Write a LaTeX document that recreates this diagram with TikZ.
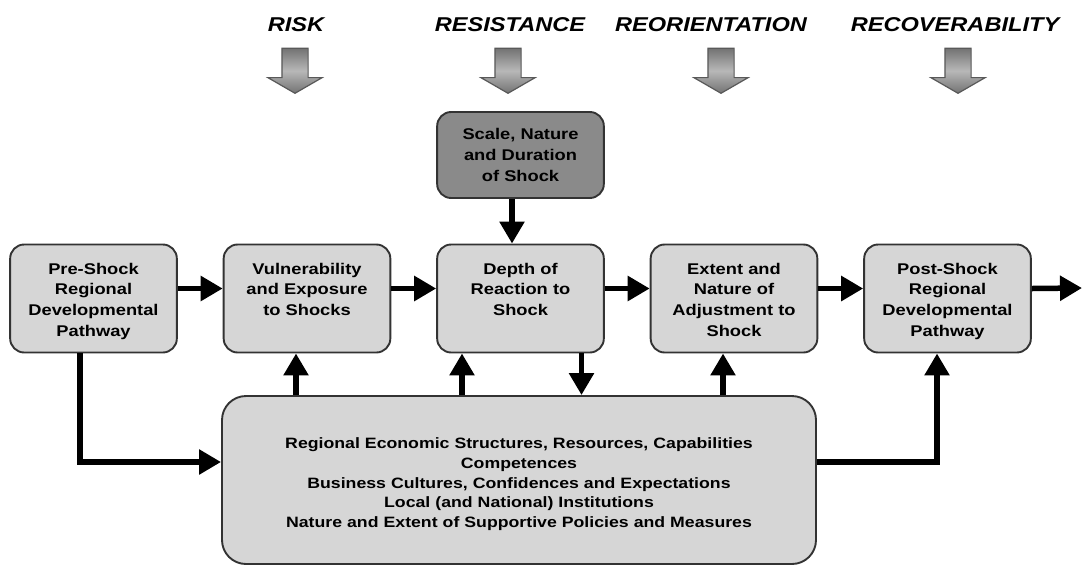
\documentclass[tikz,border=0pt]{standalone}
\usepackage{fontspec}
\setmainfont{Liberation Sans}[FakeStretch=1.18]
\usetikzlibrary{shapes.arrows,arrows.meta}
\tikzstyle{stage} = [rectangle, rounded corners=14pt, minimum width=166pt, minimum height=108pt, text width=160pt, align=center, text height=12.5pt, text depth=61.5pt, draw=black!80, line width=1.9pt, fill=black!16, font=\fontsize{15.5}{20.7}\selectfont\bfseries]
\tikzstyle{shock} = [stage, minimum height=86pt, text height=, text depth=, fill=black!46]
\tikzstyle{context} = [stage, minimum width=594pt, minimum height=168pt, text width=580pt, text height=14pt, text depth=77pt, rounded corners=24pt, font=\fontsize{15}{19.75}\selectfont\bfseries]
\tikzstyle{phase} = [font=\fontsize{20}{24}\selectfont\bfseries\itshape]
\tikzstyle{hollow} = [single arrow, rotate=-90, minimum height=45pt, inner sep=12.5pt, single arrow head extend=14pt, single arrow tip angle=120, top color=black!55, bottom color=black!55, middle color=black!28, draw=black!65, line width=1.2pt]
\tikzstyle{link} = [line width=5.5pt, -{Triangle[length=22pt,width=24pt]}]

\begin{document}
\begin{tikzpicture}[x=1pt, y=-1pt, node distance=213.5pt]
\useasboundingbox (0,0) rectangle (1083,566);
% the four phases
\node (risk) [phase] at (296,25) {RISK};
\node (resist) [phase] at (510,25) {RESISTANCE};
\node (reorient) [phase] at (711,25) {REORIENTATION};
\node (recover) [phase] at (955,25) {RECOVERABILITY};
\node (arisk) [hollow] at (295,67) {};
\node (aresist) [hollow] at (508,67) {};
\node (areorient) [hollow] at (721,67) {};
\node (arecover) [hollow] at (958,67) {};
% main chain
\node (pre) [stage] at (93.5,298.5) {Pre-Shock\\Regional\\Developmental\\Pathway};
\node (vul) [stage, right of=pre] {Vulnerability\\and Exposure\\to Shocks};
\node (dep) [stage, right of=vul] {Depth of\\Reaction to\\Shock};
\node (ext) [stage, right of=dep] {Extent and\\Nature of\\Adjustment to\\Shock};
\node (post) [stage, right of=ext] {Post-Shock\\Regional\\Developmental\\Pathway};
\node (scale) [shock, above of=dep, node distance=143.5pt] {Scale, Nature\\and Duration\\of Shock};
\node (ctx) [context] at (519,480) {Regional Economic Structures, Resources, Capabilities\\Competences\\Business Cultures, Confidences and Expectations\\Local (and National) Institutions\\Nature and Extent of Supportive Policies and Measures};
\coordinate (out) at (1082,288);
\coordinate (u1) at ([xshift=-11pt]vul.south);
\coordinate (u2) at ([xshift=-58.5pt]dep.south);
\coordinate (d1) at ([xshift=61pt]dep.south);
\coordinate (u3) at ([xshift=-11pt]ext.south);
\coordinate (u4) at ([xshift=-10.5pt]post.south);
\coordinate (s1) at ([xshift=-13.5pt]pre.south);
\coordinate (k1) at ([xshift=-8.5pt]scale.south);
\draw [link] ([yshift=10pt]pre.east) -- ([yshift=10pt]vul.west);
\draw [link] ([yshift=10pt]vul.east) -- ([yshift=10pt]dep.west);
\draw [link] ([yshift=10pt]dep.east) -- ([yshift=10pt]ext.west);
\draw [link] ([yshift=10pt]ext.east) -- ([yshift=10pt]post.west);
\draw [link] ([yshift=10pt]post.east) -- (out);
\draw [link] (k1) -- (k1 |- dep.north);
\draw [link] (u1 |- ctx.north) -- (u1);
\draw [link] (u2 |- ctx.north) -- (u2);
\draw [link] (d1) -- (d1 |- ctx.north);
\draw [link] (u3 |- ctx.north) -- (u3);
\draw [link] (s1) |- ([yshift=18pt]ctx.west);
\draw [link] ([yshift=18pt]ctx.east) -| (u4);

\end{tikzpicture}
\end{document}
